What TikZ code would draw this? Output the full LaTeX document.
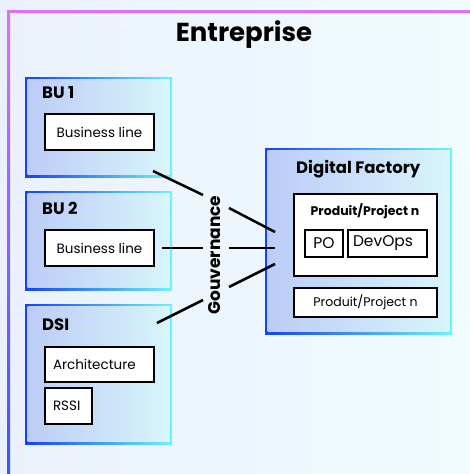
\documentclass[tikz,border=0pt]{standalone}
\usepackage{fontspec}
\setmainfont{Poppins}
\definecolor{fondG}{HTML}{EAF1FC}
\definecolor{fondD}{HTML}{F1FBFE}
\definecolor{rose}{HTML}{DA72F6}
\definecolor{bleu}{HTML}{3858F2}
\definecolor{bordG}{HTML}{1442F4}
\definecolor{bordD}{HTML}{70F2F8}
\definecolor{blocG}{HTML}{BCCBF7}
\definecolor{blocD}{HTML}{D8F6FB}

\begin{document}
\begin{tikzpicture}[x=1pt,y=-1pt]
 \tikzstyle{bloc}=[inner sep=0pt, left color=bordG, right color=bordD,
   path picture={\shade[left color=blocG,right color=blocD]
     ([shift={(2.5pt,2.5pt)}]path picture bounding box.south west) rectangle
     ([shift={(-2.5pt,-2.5pt)}]path picture bounding box.north east);}]
 \tikzstyle{titre}=[font=\bfseries\fontsize{16.5}{19}\selectfont, anchor=west, inner sep=0pt]
 \tikzstyle{boite}=[draw=black, line width=2pt, fill=white, inner sep=0pt,
   font=\fontsize{13.5}{16}\selectfont]
 \tikzstyle{petit}=[draw=black, line width=1.3pt, fill=white, inner sep=0pt,
   font=\fontsize{15.5}{17}\selectfont, minimum height=27pt]
 \tikzstyle{gouv}=[line width=2.5pt]
 \useasboundingbox (0,0) rectangle (470,474);
 \shade[left color=fondG, right color=fondD] (0,0) rectangle (470,474);
 % cadre entreprise
 \fill[rose] (7,10) rectangle (470,12.5);
 \shade[top color=rose, bottom color=bleu] (7,10) rectangle (10,474);
 \node[font=\bfseries\fontsize{26}{30}\selectfont] (ent) at (244,35) {Entreprise};
 % BU 1
 \node[bloc, minimum width=147pt, minimum height=100pt] (BU1) at (98.5,127) {};
 \node[titre] (tBU1) at (42,93) {BU 1};
 \node[boite, minimum width=109pt, minimum height=36pt] (BL1) at (99.5,132) {Business line};
 % BU 2
 \node[bloc, minimum width=147pt, minimum height=99pt] (BU2) at (98.5,240.5) {};
 \node[titre] (tBU2) at (42,208) {BU 2};
 \node[boite, minimum width=109pt, minimum height=36pt] (BL2) at (99.5,248) {Business line};
 % DSI
 \node[bloc, minimum width=147pt, minimum height=140pt] (DSI) at (98.5,374) {};
 \node[titre] (tDSI) at (42,325) {DSI};
 \node[boite, text width=93pt, align=left, inner xsep=8pt, minimum height=35pt] (ARCH) at (99.5,364.5) {Architecture};
 \node[boite, text width=31pt, align=left, inner xsep=8pt, minimum height=36pt] (RSSI) at (68.5,406) {RSSI};
 % Digital Factory
 \node[bloc, minimum width=187pt, minimum height=186pt] (DF) at (358.5,241) {};
 \node[titre] (tDF) at (296,169) {Digital Factory};
 \node[boite, minimum width=143pt, minimum height=82pt] (P1) at (365.5,235) {};
 \node[font=\bfseries\fontsize{12.5}{15}\selectfont] (tP1) at (365,211) {Produit/Project n};
 \node[petit, minimum width=38pt] (PO) at (324,243.5) {PO};
 \node[petit, text width=69pt, align=left, inner xsep=5pt] (DEV) at (387.5,243.5) {DevOps};
 \node[boite, minimum width=143pt, minimum height=29pt, font=\fontsize{12.5}{15}\selectfont] (P2) at (365.5,302.5) {Produit/Project n};
 % gouvernance
 \node[rotate=90, font=\bfseries\fontsize{17}{19}\selectfont] (GOUV) at (215,255) {Gouvernance};
 \coordinate (g1a) at (153,171); \coordinate (g1b) at (203,195);
 \coordinate (g2a) at (162,248); \coordinate (g2b) at (203,248);
 \coordinate (g3a) at (157,323); \coordinate (g3b) at (203,300);
 \coordinate (d1a) at (229,208); \coordinate (d1b) at (275,232);
 \coordinate (d2a) at (229,248); \coordinate (d2b) at (275,248);
 \coordinate (d3a) at (229,287); \coordinate (d3b) at (275,264);
 \draw[gouv] (g1a)--(g1b);
 \draw[gouv] (g2a)--(g2b);
 \draw[gouv] (g3a)--(g3b);
 \draw[gouv] (d1a)--(d1b);
 \draw[gouv] (d2a)--(d2b);
 \draw[gouv] (d3a)--(d3b);
\end{tikzpicture}
\end{document}
